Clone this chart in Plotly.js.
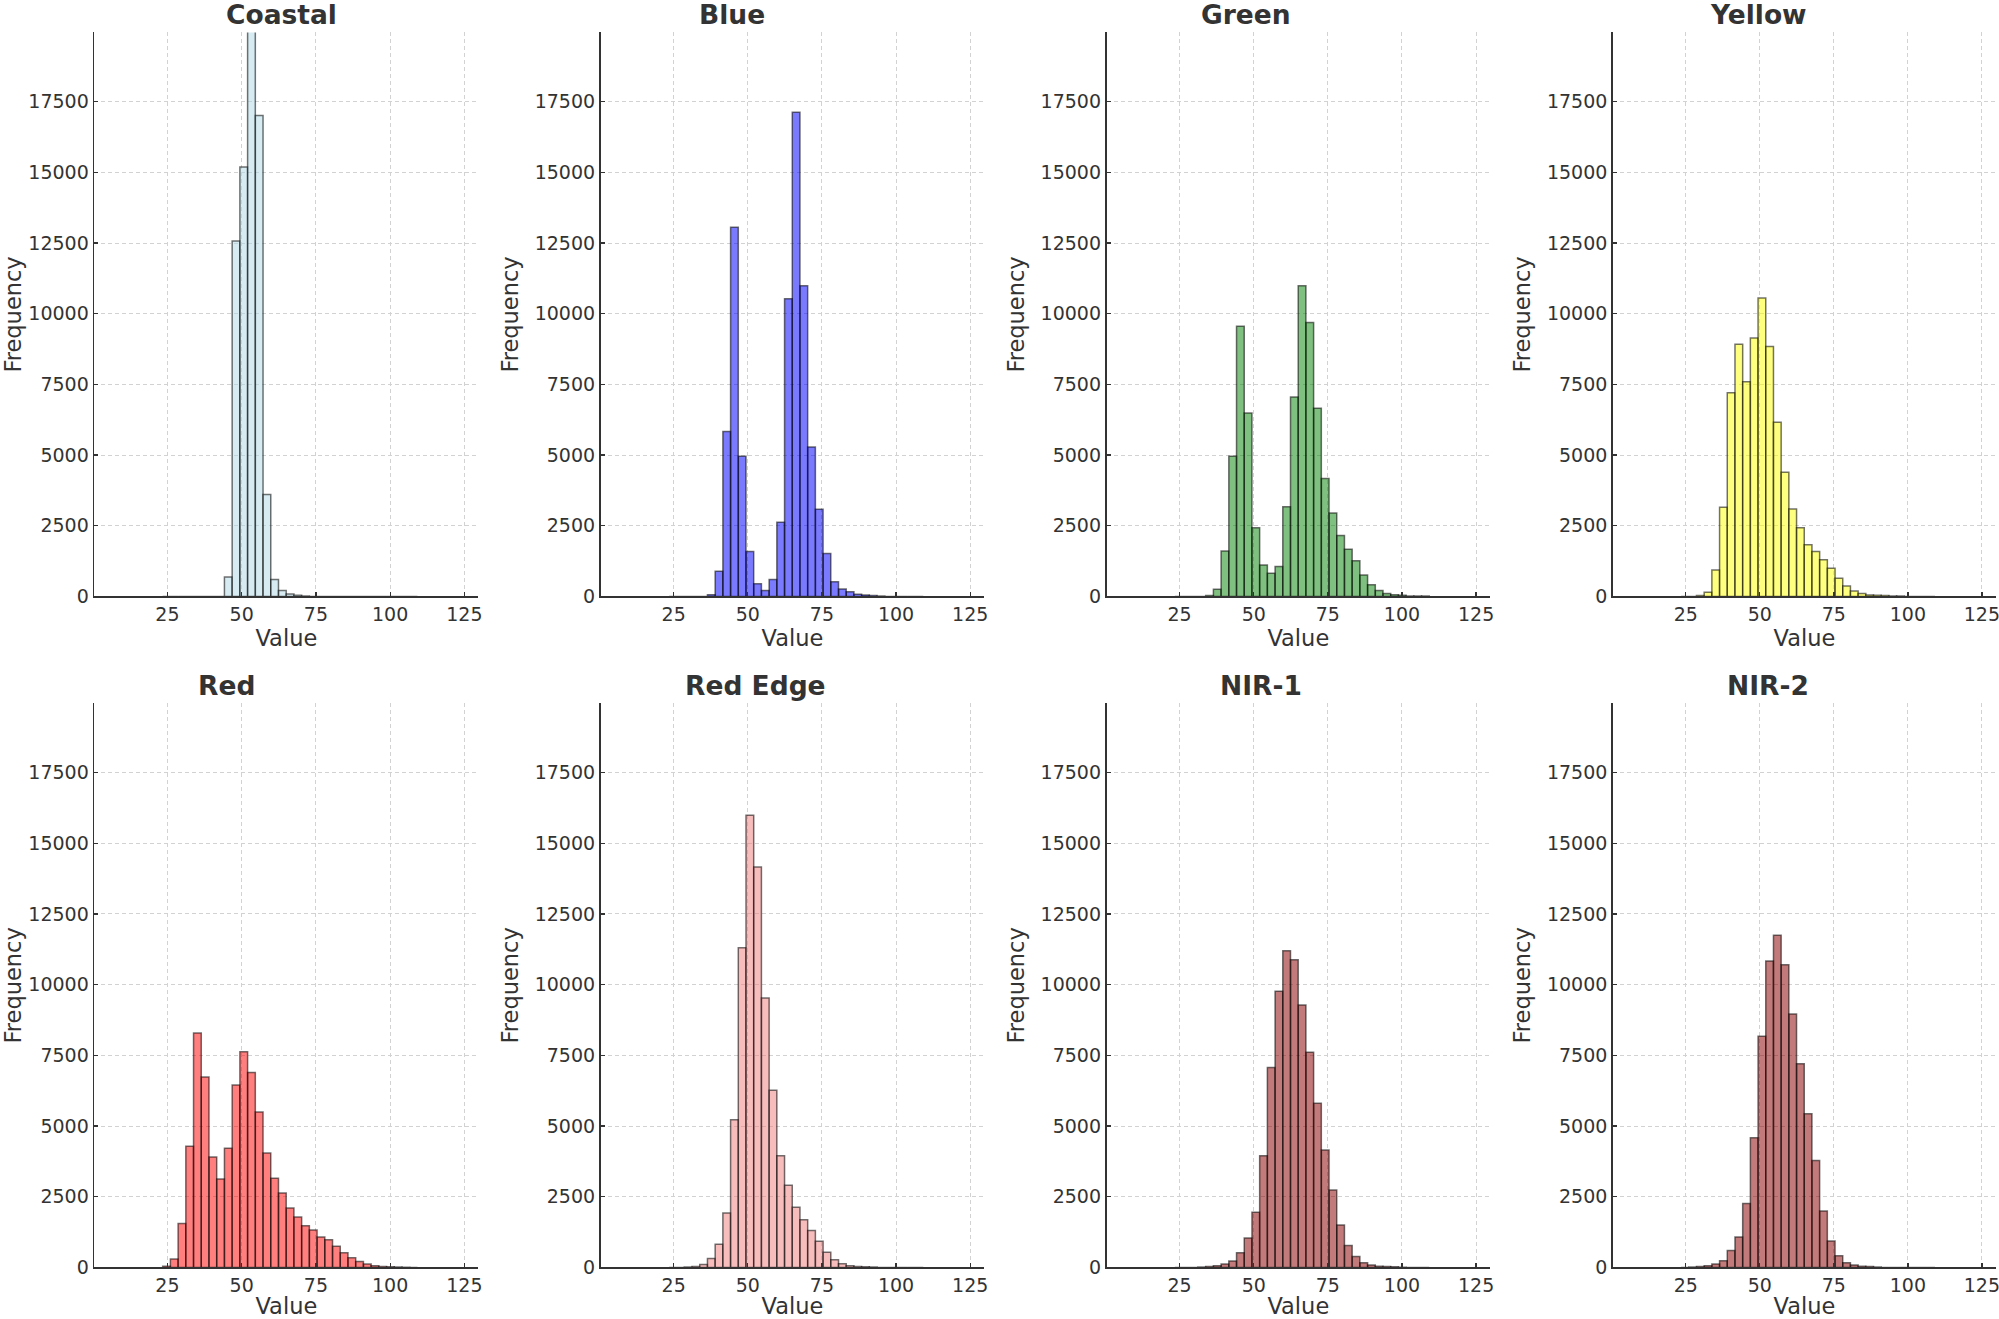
<!DOCTYPE html>
<html>
<head>
<meta charset="utf-8">
<script src="https://cdn.plot.ly/plotly-3.0.1.min.js"></script>
<style>
  html, body { margin: 0; padding: 0; background: #ffffff; }
  #chart { width: 1999px; height: 1319px; }
</style>
</head>
<body>
<div id="chart"></div>
<script>
// ---- data ----
const bandNames = ["Coastal", "Blue", "Green", "Yellow", "Red", "Red Edge", "NIR-1", "NIR-2"];
// left edges of histogram bins (shared grid)
const binLeft = [23.4, 26.0, 28.6, 31.2, 33.8, 36.4, 39.0, 41.6, 44.2, 46.8, 49.4, 52.0, 54.6, 57.2,
                 59.8, 62.4, 65.0, 67.6, 70.2, 72.8, 75.4, 78.0, 80.6, 83.2, 85.8, 88.4, 91.0, 93.6,
                 96.2, 98.8, 101.4, 104.0, 106.6];
const binWidth = 2.6;

const coastal = [0, 0, 0, 0, 0, 0, 0, 0, 685, 12570, 15190, 20500, 17010, 3604, 596, 208, 90, 40, 15,
                 0, 0, 0, 0, 0, 0, 0, 0, 0, 0, 0, 0, 0, 0];
const blue = [0, 0, 0, 0, 0, 60, 894, 5838, 13060, 4960, 1594, 447, 208, 596, 2621, 10530, 17130, 10990,
              5286, 3083, 1519, 521, 268, 164, 75, 50, 30, 20, 0, 0, 0, 0, 0];
const green = [0, 0, 0, 0, 30, 253, 1608, 4958, 9560, 6492, 2427, 1117, 819, 1057, 3172, 7058, 10990, 9693,
               6656, 4169, 2948, 2159, 1668, 1266, 759, 417, 208, 104, 60, 40, 20, 20, 15];
const yellow = [0, 0, 30, 149, 938, 3157, 7207, 8919, 7594, 9143, 10557, 8845, 6164, 4393, 3097, 2427, 1831,
                1593, 1295, 998, 640, 372, 194, 104, 50, 40, 30, 20, 15, 0, 0, 0, 0];
const red = [45, 298, 1549, 4288, 8294, 6730, 3901, 3127, 4214, 6447, 7624, 6894, 5494, 4050, 3157, 2636, 2100,
             1787, 1474, 1325, 1072, 983, 745, 521, 342, 208, 119, 60, 30, 20, 15, 10, 0];
const redEdge = [0, 0, 15, 30, 104, 313, 819, 1921, 5226, 11301, 15992, 14160, 9530, 6269, 3946, 2904, 2129,
                 1683, 1310, 923, 536, 268, 134, 60, 30, 20, 15, 0, 0, 0, 0, 0, 0];
const nir1 = [0, 0, 0, 15, 30, 60, 119, 223, 521, 1042, 1951, 3946, 7073, 9768, 11197, 10885, 9276, 7609,
              5807, 4154, 2740, 1504, 774, 387, 164, 89, 45, 30, 20, 10, 0, 0, 0];
const nir2 = [0, 15, 30, 60, 119, 238, 596, 1072, 2263, 4586, 8175, 10840, 11748, 10706, 8964, 7207, 5435,
              3782, 1995, 938, 417, 164, 89, 45, 30, 15, 0, 0, 0, 0, 0, 0, 0];

const xTickVals = [25, 50, 75, 100, 125];
const yTickVals = [0, 2500, 5000, 7500, 10000, 12500, 15000, 17500];

// ---- styles / layout ----
const seriesList = [coastal, blue, green, yellow, red, redEdge, nir1, nir2];
const fillColors = [
  "rgba(173,216,230,0.5)", "rgba(0,0,255,0.52)", "rgba(0,128,0,0.5)", "rgba(255,255,0,0.5)",
  "rgba(255,0,0,0.5)", "rgba(240,128,128,0.52)", "rgba(139,0,0,0.52)", "rgba(139,0,0,0.52)"
];
// horizontal position (in axis units) of each subplot title, as placed in the reference
const titlePos = [63.4, 44.8, 47.4, 49.6, 44.8, 52.6, 52.5, 52.6];
const colDomains = [[0.0472, 0.2393], [0.3005, 0.4923], [0.5536, 0.7454], [0.8069, 0.9984]];
const rowDomains = [[0.5478, 0.9754], [0.0391, 0.4668]];
const FONT = "DejaVu Sans, Liberation Sans, sans-serif";
const TXT = "#333333";

const traces = [];
const layout = {
  width: 1999, height: 1319,
  margin: {l: 0, r: 0, t: 0, b: 0},
  paper_bgcolor: "#ffffff",
  plot_bgcolor: "#ffffff",
  showlegend: false,
  font: {family: FONT, color: TXT},
  annotations: []
};

seriesList.forEach((vals, i) => {
  const r = Math.floor(i / 4), c = i % 4;
  const n = i + 1;
  const xa = n === 1 ? "x" : "x" + n;
  const ya = n === 1 ? "y" : "y" + n;
  traces.push({
    type: "bar",
    name: bandNames[i],
    x: binLeft,
    y: vals,
    width: binLeft.map(() => binWidth),
    offset: 0,
    xaxis: xa, yaxis: ya,
    marker: {color: fillColors[i], line: {color: "rgba(0,0,0,0.55)", width: 1.5}},
    hoverinfo: "x+y"
  });
  const xKey = n === 1 ? "xaxis" : "xaxis" + n;
  const yKey = n === 1 ? "yaxis" : "yaxis" + n;
  layout[xKey] = {
    domain: colDomains[c], anchor: ya,
    range: [0.4, 129.7],
    tickvals: xTickVals, ticktext: xTickVals.map(String),
    ticks: "inside", ticklen: 4, tickwidth: 1.3, tickcolor: TXT,
    ticklabeloverflow: "allow",
    showline: true, linecolor: TXT, linewidth: 1.8,
    showgrid: true, gridcolor: "#d2d2d2", gridwidth: 1, griddash: "4px,3px",
    zeroline: false,
    tickfont: {family: FONT, size: 19, color: TXT},
    title: {text: "Value", font: {family: FONT, size: 22.5, color: TXT}, standoff: 6}
  };
  layout[yKey] = {
    domain: rowDomains[r], anchor: xa,
    range: [0, 19950],
    tickvals: yTickVals, ticktext: yTickVals.map(String),
    ticks: "inside", ticklen: 4, tickwidth: 1.3, tickcolor: TXT,
    ticklabeloverflow: "allow",
    showline: true, linecolor: TXT, linewidth: 1.8,
    showgrid: true, gridcolor: "#d2d2d2", gridwidth: 1, griddash: "4px,3px",
    zeroline: false,
    tickfont: {family: FONT, size: 19, color: TXT},
    title: {text: "Frequency", font: {family: FONT, size: 22.5, color: TXT}, standoff: 10}
  };
  layout.annotations.push({
    text: "<b>" + bandNames[i] + "</b>",
    xref: xa, yref: "paper",
    x: titlePos[i],
    y: rowDomains[r][1],
    xanchor: "center", yanchor: "bottom",
    yshift: 0,
    showarrow: false,
    font: {family: FONT, size: 26.5, color: TXT}
  });
});

Plotly.newPlot("chart", traces, layout, {displayModeBar: false, staticPlot: true});
</script>
</body>
</html>
